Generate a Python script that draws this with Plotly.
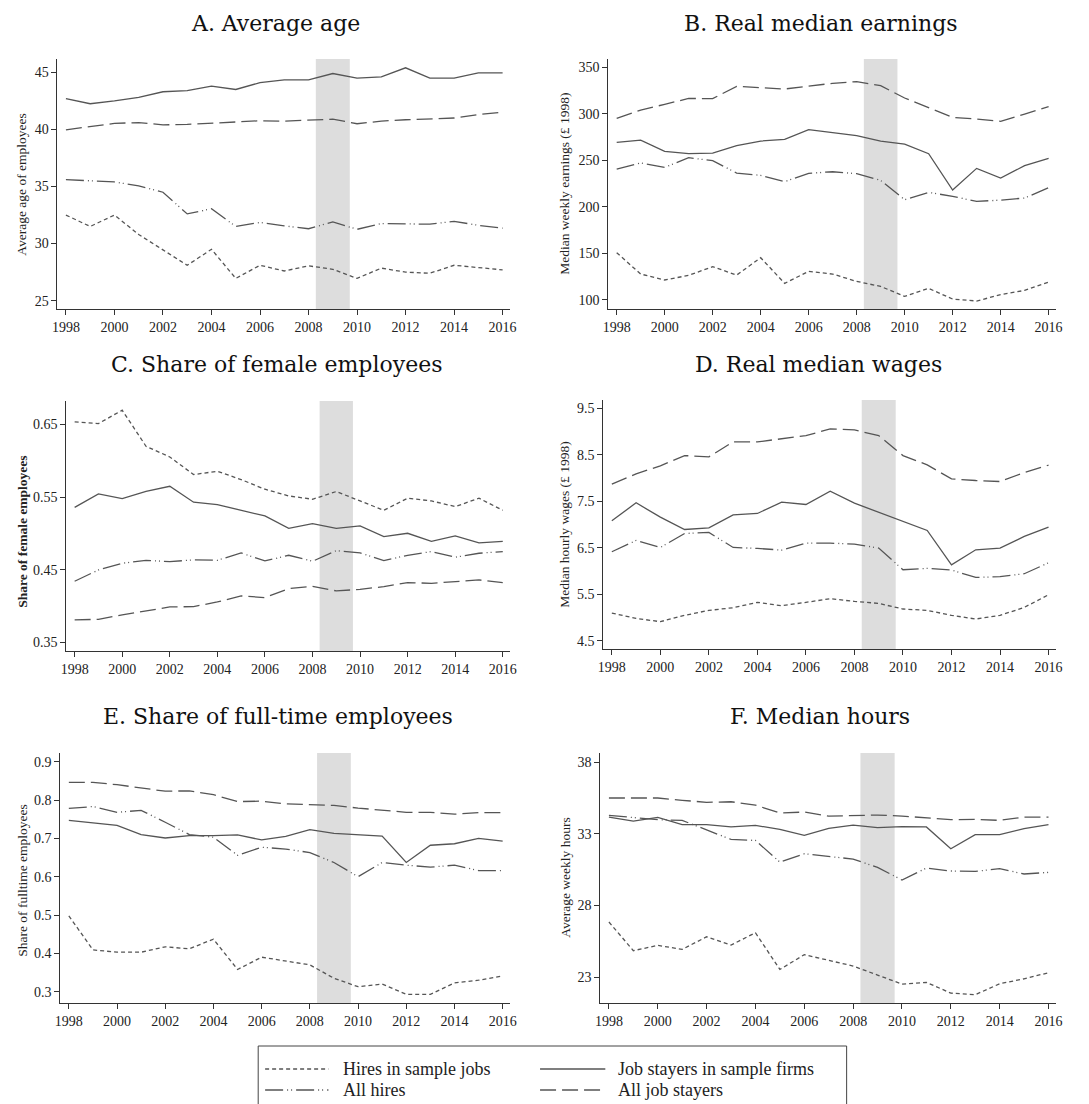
import plotly.graph_objects as go

W, H = 1089, 1104
years = list(range(1998, 2017))
xticks = list(range(1998, 2017, 2))
recession = (2008.3, 2009.7)

series_names = [
    "Hires in sample jobs",
    "Job stayers in sample firms",
    "All hires",
    "All job stayers",
]

# A. Average age
age_hires_sample = [32.5, 31.5, 32.5, 30.8, 29.45, 28.1, 29.5, 26.95, 28.1, 27.6,
                    28.05, 27.75, 26.95, 27.85, 27.5, 27.4, 28.1, 27.9, 27.7]
age_stayers_sample = [42.7, 42.25, 42.5, 42.8, 43.3, 43.4, 43.8, 43.5, 44.1, 44.35,
                      44.35, 44.9, 44.5, 44.6, 45.4, 44.5, 44.5, 44.95, 44.95]
age_all_hires = [35.6, 35.5, 35.4, 35.05, 34.5, 32.6, 33.05, 31.5, 31.85, 31.55,
                 31.3, 31.9, 31.25, 31.75, 31.7, 31.7, 31.95, 31.6, 31.35]
age_all_stayers = [39.97, 40.26, 40.53, 40.6, 40.4, 40.44, 40.56, 40.64, 40.76, 40.73,
                   40.8, 40.9, 40.5, 40.73, 40.85, 40.9, 41.0, 41.3, 41.5]

# B. Real median earnings (weekly, 1998 pounds)
earn_hires_sample = [150.6, 127.6, 121.2, 126.2, 135.5, 126.5, 145.2, 117.6, 130.5, 127.6,
                     119.7, 114.3, 103.6, 112.2, 100.7, 98.6, 105.4, 110.0, 119.0]
earn_stayers_sample = [269.3, 271.8, 259.6, 257.1, 257.8, 265.7, 270.7, 272.5, 282.9, 280.0,
                       276.5, 270.7, 267.5, 257.1, 218.0, 241.3, 230.9, 244.2, 252.1]
earn_all_hires = [240.6, 247.1, 242.4, 252.8, 249.6, 236.3, 233.8, 227.0, 236.0, 237.7,
                  235.6, 228.4, 207.6, 215.5, 211.2, 205.8, 207.2, 209.4, 220.5]
earn_all_stayers = [295.1, 304.1, 310.2, 316.6, 316.3, 329.6, 328.1, 326.7, 329.9, 332.8,
                    334.6, 330.3, 317.0, 307.0, 296.2, 294.4, 291.9, 299.8, 307.7]

# C. Share of female employees
fem_hires_sample = [0.6537, 0.6514, 0.6698, 0.6201, 0.6054, 0.5811, 0.5857, 0.5742, 0.5609, 0.5517,
                    0.5471, 0.5577, 0.5448, 0.5319, 0.5485, 0.5448, 0.5370, 0.5485, 0.5319]
fem_stayers_sample = [0.5360, 0.5544, 0.5480, 0.5581, 0.5650, 0.5430, 0.5397, 0.5324, 0.5241, 0.5071,
                      0.5136, 0.5071, 0.5103, 0.4956, 0.5002, 0.4892, 0.4965, 0.4869, 0.4892]
fem_all_hires = [0.4341, 0.4497, 0.4589, 0.4630, 0.4612, 0.4635, 0.4630, 0.4731, 0.4621, 0.4699,
                 0.4616, 0.4763, 0.4731, 0.4626, 0.4699, 0.4750, 0.4672, 0.4727, 0.4750]
fem_all_stayers = [0.3808, 0.3817, 0.3877, 0.3932, 0.3987, 0.3992, 0.4056, 0.4139, 0.4116, 0.4240,
                   0.4272, 0.4208, 0.4230, 0.4267, 0.4322, 0.4313, 0.4332, 0.4359, 0.4322]

# D. Real median wages (hourly, 1998 pounds)
wage_hires_sample = [5.100, 4.986, 4.915, 5.051, 5.158, 5.215, 5.330, 5.258, 5.330, 5.408,
                     5.351, 5.308, 5.187, 5.158, 5.051, 4.972, 5.051, 5.222, 5.494]
wage_stayers_sample = [7.082, 7.469, 7.161, 6.896, 6.932, 7.211, 7.240, 7.483, 7.433, 7.719,
                       7.461, 7.268, 7.068, 6.875, 6.138, 6.460, 6.496, 6.746, 6.946]
wage_all_hires = [6.417, 6.660, 6.510, 6.810, 6.832, 6.510, 6.489, 6.453, 6.603, 6.603,
                  6.582, 6.496, 6.031, 6.060, 6.024, 5.866, 5.881, 5.945, 6.181]
wage_all_stayers = [7.869, 8.091, 8.263, 8.484, 8.456, 8.778, 8.778, 8.842, 8.913, 9.056,
                    9.035, 8.913, 8.484, 8.284, 7.983, 7.948, 7.926, 8.119, 8.277]

# E. Share of full-time employees
ft_hires_sample = [0.498, 0.409, 0.403, 0.403, 0.417, 0.412, 0.437, 0.358, 0.390, 0.380,
                   0.370, 0.335, 0.313, 0.320, 0.293, 0.293, 0.323, 0.330, 0.341]
ft_stayers_sample = [0.747, 0.740, 0.734, 0.710, 0.701, 0.707, 0.707, 0.709, 0.696, 0.705,
                     0.723, 0.713, 0.709, 0.706, 0.637, 0.682, 0.686, 0.700, 0.693]
ft_all_hires = [0.778, 0.783, 0.768, 0.773, 0.742, 0.710, 0.703, 0.656, 0.677, 0.672,
                0.663, 0.637, 0.600, 0.637, 0.630, 0.625, 0.630, 0.616, 0.616]
ft_all_stayers = [0.846, 0.846, 0.840, 0.832, 0.823, 0.824, 0.814, 0.796, 0.797, 0.790,
                  0.788, 0.786, 0.779, 0.773, 0.768, 0.768, 0.763, 0.767, 0.767]

# F. Median hours (weekly)
hrs_hires_sample = [26.84, 24.84, 25.21, 24.93, 25.81, 25.23, 26.09, 23.53, 24.56, 24.19,
                    23.77, 23.14, 22.51, 22.63, 21.88, 21.77, 22.53, 22.88, 23.30]
hrs_stayers_sample = [34.16, 33.88, 34.14, 33.63, 33.63, 33.47, 33.58, 33.30, 32.88, 33.37,
                      33.60, 33.42, 33.49, 33.47, 31.95, 32.93, 32.93, 33.35, 33.63]
hrs_all_hires = [34.28, 34.14, 33.98, 33.93, 33.26, 32.60, 32.53, 31.02, 31.60, 31.44,
                 31.23, 30.65, 29.77, 30.60, 30.40, 30.37, 30.56, 30.19, 30.30]
hrs_all_stayers = [35.49, 35.49, 35.49, 35.33, 35.19, 35.23, 35.00, 34.44, 34.51, 34.23,
                   34.28, 34.30, 34.23, 34.09, 33.98, 34.00, 33.93, 34.16, 34.16]

# line styles per series
LINE_COLOR = "#555555"
LINE_W = 1.3
dashes = {
    "Hires in sample jobs": "4px,3px",
    "Job stayers in sample firms": "solid",
    "All hires": "18px,4px,1px,3px,1px,4px",
    "All job stayers": "16px,6px",
}

SERIF = "Liberation Serif"
TITLE_FONT = "DejaVu Serif"

# panel definitions: box = (left, top, right, bottom) in pixels
panels = [
    dict(title="A. Average age", ylabel="Average age of employees", bold=False,
         data=[age_hires_sample, age_stayers_sample, age_all_hires, age_all_stayers],
         yticks=[25, 30, 35, 40, 45], fmt="", yrange=[24.27, 46.17],
         box=(52, 59, 510, 309), title_xy=(273, 24), ylab_xy=(16, 184)),
    dict(title="B. Real median earnings", ylabel="Median weekly earnings (£ 1998)", bold=False,
         data=[earn_hires_sample, earn_stayers_sample, earn_all_hires, earn_all_stayers],
         yticks=[100, 150, 200, 250, 300, 350], fmt="", yrange=[90.0, 359.0],
         box=(609, 59, 1062, 309), title_xy=(824, 24), ylab_xy=(565, 184)),
    dict(title="C. Share of female employees", ylabel="Share of female employees", bold=True,
         data=[fem_hires_sample, fem_stayers_sample, fem_all_hires, fem_all_stayers],
         yticks=[0.35, 0.45, 0.55, 0.65], fmt=".2f", yrange=[0.338, 0.6825],
         box=(61, 401, 510, 651), title_xy=(274, 364), ylab_xy=(17, 532)),
    dict(title="D. Real median wages", ylabel="Median hourly wages (£ 1998)", bold=False,
         data=[wage_hires_sample, wage_stayers_sample, wage_all_hires, wage_all_stayers],
         yticks=[4.5, 5.5, 6.5, 7.5, 8.5, 9.5], fmt=".1f", yrange=[4.328, 9.678],
         box=(604, 400, 1062, 649), title_xy=(822, 364), ylab_xy=(564, 525)),
    dict(title="E. Share of full-time employees", ylabel="Share of fulltime employees", bold=False,
         data=[ft_hires_sample, ft_stayers_sample, ft_all_hires, ft_all_stayers],
         yticks=[0.3, 0.4, 0.5, 0.6, 0.7, 0.8, 0.9], fmt=".1f", yrange=[0.2705, 0.9227],
         box=(55, 753, 510, 1003), title_xy=(275, 716), ylab_xy=(16, 880)),
    dict(title="F. Median hours", ylabel="Average weekly hours", bold=False,
         data=[hrs_hires_sample, hrs_stayers_sample, hrs_all_hires, hrs_all_stayers],
         yticks=[23, 28, 33, 38], fmt="", yrange=[21.19, 38.63],
         box=(601, 753, 1062, 1003), title_xy=(823, 716), ylab_xy=(565, 878)),
]


def px_x(x):
    return x / W


def px_y(y):
    return 1 - y / H


fig = go.Figure()
shapes, annotations = [], []
layout_axes = {}

axis_common = dict(
    showline=True, linecolor="#333333", linewidth=1,
    ticks="outside", ticklen=5, tickwidth=1, tickcolor="#333333",
    showgrid=False, zeroline=False,
    tickfont=dict(family=SERIF, size=14, color="#222222"),
)

for i, p in enumerate(panels, start=1):
    sfx = "" if i == 1 else str(i)
    xa, ya = f"x{sfx}", f"y{sfx}"
    l, t, r, b = p["box"]

    layout_axes[f"xaxis{sfx}"] = dict(
        axis_common, domain=[px_x(l), px_x(r)], anchor=ya,
        range=[1997.65, 2016.32], tickvals=xticks,
    )
    layout_axes[f"yaxis{sfx}"] = dict(
        axis_common, domain=[px_y(b), px_y(t)], anchor=xa,
        range=p["yrange"], tickvals=p["yticks"], tickformat=p["fmt"],
    )

    for name, vals in zip(series_names, p["data"]):
        fig.add_trace(go.Scatter(
            x=years, y=vals, mode="lines", name=name, showlegend=False,
            line=dict(color=LINE_COLOR, width=LINE_W, dash=dashes[name]),
            xaxis=xa, yaxis=ya,
        ))

    # recession band
    shapes.append(dict(
        type="rect", xref=xa, yref=f"{ya} domain",
        x0=recession[0], x1=recession[1], y0=0, y1=1,
        fillcolor="#dddddd", line=dict(width=0), layer="below",
    ))

    tx, ty = p["title_xy"]
    annotations.append(dict(
        text=p["title"], x=px_x(tx), y=px_y(ty), xref="paper", yref="paper",
        xanchor="center", yanchor="middle", showarrow=False,
        font=dict(family=TITLE_FONT, size=22, color="#111111"),
    ))
    lx, ly = p["ylab_xy"]
    label = f"<b>{p['ylabel']}</b>" if p["bold"] else p["ylabel"]
    annotations.append(dict(
        text=label, x=px_x(lx), y=px_y(ly), xref="paper", yref="paper",
        xanchor="center", yanchor="middle", showarrow=False, textangle=-90,
        font=dict(family=SERIF, size=13.5, color="#222222"),
    ))

# legend box at the bottom
shapes.append(dict(
    type="rect", xref="paper", yref="paper",
    x0=px_x(255), x1=px_x(850), y0=px_y(1112), y1=px_y(1046),
    line=dict(color="#444444", width=1), fillcolor="rgba(0,0,0,0)",
))
legend_slots = [
    ("Hires in sample jobs", 262, 326, 339, 1069),
    ("Job stayers in sample firms", 540, 606, 617, 1069),
    ("All hires", 262, 326, 339, 1090),
    ("All job stayers", 540, 606, 617, 1090),
]
for name, x0, x1, xt, yy in legend_slots:
    shapes.append(dict(
        type="line", xref="paper", yref="paper",
        x0=px_x(x0), x1=px_x(x1), y0=px_y(yy), y1=px_y(yy),
        line=dict(color=LINE_COLOR, width=LINE_W + 0.4, dash=dashes[name]),
    ))
    annotations.append(dict(
        text=name, x=px_x(xt), y=px_y(yy), xref="paper", yref="paper",
        xanchor="left", yanchor="middle", showarrow=False,
        font=dict(family=SERIF, size=18, color="#222222"),
    ))

fig.update_layout(
    width=W, height=H,
    margin=dict(l=0, r=0, t=0, b=0),
    paper_bgcolor="white", plot_bgcolor="white",
    shapes=shapes, annotations=annotations,
    **layout_axes,
)

fig.write_html("out.html", include_plotlyjs=True)
